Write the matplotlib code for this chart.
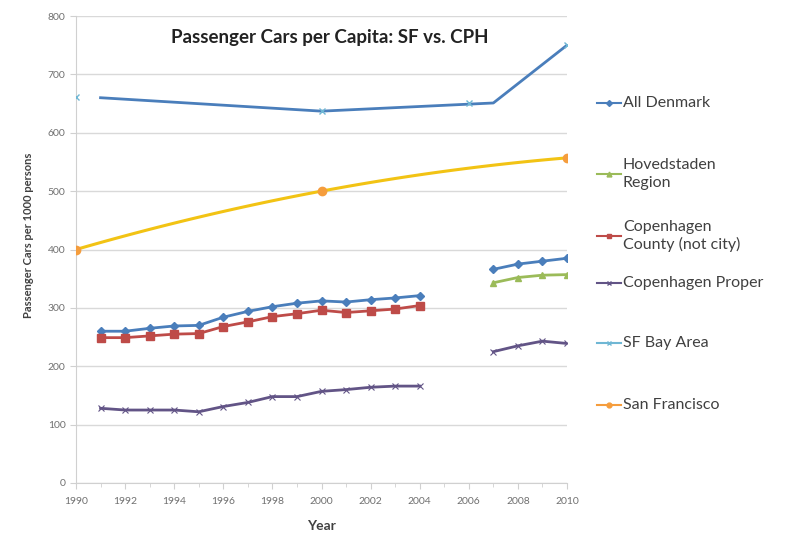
import matplotlib
matplotlib.use('Agg')
import matplotlib.pyplot as plt
import numpy as np
from matplotlib.lines import Line2D

plt.rcParams['font.family'] = ['Lato', 'DejaVu Sans']

# car ownership, passenger cars per 1000 persons
years_a = [1991, 1992, 1993, 1994, 1995, 1996, 1997, 1998, 1999, 2000, 2001, 2002, 2003, 2004]
years_b = [2007, 2008, 2009, 2010]

denmark_a = [260, 260, 265, 269, 270, 284, 294, 302, 308, 312, 310, 314, 317, 321]
denmark_b = [366, 375, 380, 385]

hovedstaden_b = [343, 352, 356, 357]

cph_county_a = [249, 249, 252, 255, 256, 268, 276, 285, 290, 296, 292, 295, 298, 304]

cph_proper_a = [128, 125, 125, 125, 122, 131, 138, 148, 148, 157, 160, 164, 166, 166]
cph_proper_b = [225, 235, 243, 239]

bay_years = [1990, 2000, 2006, 2010]
bay_values = [662, 638, 651, 750]
bay_line_years = [1991, 2000, 2007, 2010]
bay_line_values = [660, 637, 651, 750]

sf_years = [1990, 2000, 2010]
sf_values = [400, 500, 557]

legend_labels = ['All Denmark', 'Hovedstaden\nRegion', 'Copenhagen\nCounty (not city)',
                 'Copenhagen Proper', 'SF Bay Area', 'San Francisco']

c_dk = '#4A7EBB'
c_hov = '#9BBB59'
c_cc = '#BE4B48'
c_cp = '#625486'
c_bay = '#6FB7D4'
c_sf_line = '#F2C314'
c_sf_mk = '#F59D3D'

fig = plt.figure(figsize=(7.85, 5.34), dpi=100)
ax = fig.add_axes([76 / 785, 51 / 534, 491 / 785, 467 / 534])

for yrs, vals in [(years_a, denmark_a), (years_b, denmark_b)]:
    ax.plot(yrs, vals, color=c_dk, lw=2, marker='D', ms=4, zorder=4)
ax.plot(years_b, hovedstaden_b, color=c_hov, lw=2, marker='^', ms=5, zorder=4)
ax.plot(years_a, cph_county_a, color=c_cc, lw=2, marker='s', ms=6, zorder=4)
for yrs, vals in [(years_a, cph_proper_a), (years_b, cph_proper_b)]:
    ax.plot(yrs, vals, color=c_cp, lw=2, marker='x', ms=4, mew=0.8, zorder=4)

# bay area: line plus separate point markers
ax.plot(bay_line_years, bay_line_values, color=c_dk, lw=2, zorder=3)
ax.plot(bay_years, bay_values, ls='none', color=c_bay, marker='x', ms=5, mew=1, zorder=4)

# san francisco: smoothed curve through the three points
t = np.linspace(sf_years[0], sf_years[-1], 100)
coef = np.polyfit(sf_years, sf_values, 2)
ax.plot(t, np.polyval(coef, t), color=c_sf_line, lw=2.2, zorder=3)
ax.plot(sf_years, sf_values, ls='none', marker='o', ms=6, color=c_sf_mk, zorder=4)

ax.set_xlim(1990, 2010)
ax.set_ylim(0, 800)
ax.set_xticks(range(1990, 2011, 2))
ax.set_xticks(range(1990, 2011), minor=True)
ax.set_yticks(range(0, 801, 100))
ax.yaxis.grid(True, color='#D9D9D9', lw=1)
ax.set_axisbelow(True)
for s in ['top', 'right']:
    ax.spines[s].set_visible(False)
for s in ['left', 'bottom']:
    ax.spines[s].set_color('#D0D0D0')
ax.tick_params(axis='both', labelsize=7.5, colors='#D0D0D0', labelcolor='#707070', length=4)
ax.tick_params(axis='x', which='minor', length=3, colors='#D0D0D0')
ax.tick_params(axis='x', pad=6)

ax.set_xlabel('Year', fontsize=10, fontweight='bold', color='#404040', labelpad=10)
ax.set_ylabel('Passenger Cars per 1000 persons', fontsize=8, fontweight='bold',
              color='#404040', labelpad=8)
ax.yaxis.set_label_coords(-0.085, 0.53)
fig.text(330 / 785, 1 - 37 / 534, 'Passenger Cars per Capita: SF vs. CPH',
         ha='center', va='center', fontsize=13.5, fontweight='bold', color='#222222')

# legend entries: short sample line with the marker in its middle, then the label
handles = [
    Line2D([], [], color=c_dk, marker='D', ms=3),
    Line2D([], [], color=c_hov, marker='^', ms=3.5),
    Line2D([], [], color=c_cc, marker='s', ms=3.5),
    Line2D([], [], color=c_cp, marker='x', ms=3),
    Line2D([], [], color=c_bay, marker='x', ms=3),
    Line2D([], [], color=c_sf_mk, marker='o', ms=3.5),
]
leg_y = [103, 174, 236, 283, 343, 405]
for h, lab, y in zip(handles, legend_labels, leg_y):
    yf = 1 - y / 534
    fig.add_artist(Line2D([597 / 785, 609 / 785, 621 / 785], [yf, yf, yf],
                          color=h.get_color(), lw=1.5, marker=h.get_marker(),
                          markevery=[1], ms=h.get_markersize(),
                          transform=fig.transFigure))
    fig.text(623 / 785, yf, lab, ha='left', va='center', fontsize=11.5, color='#404040',
             linespacing=1.3)

fig.savefig('out.png', dpi=100)
